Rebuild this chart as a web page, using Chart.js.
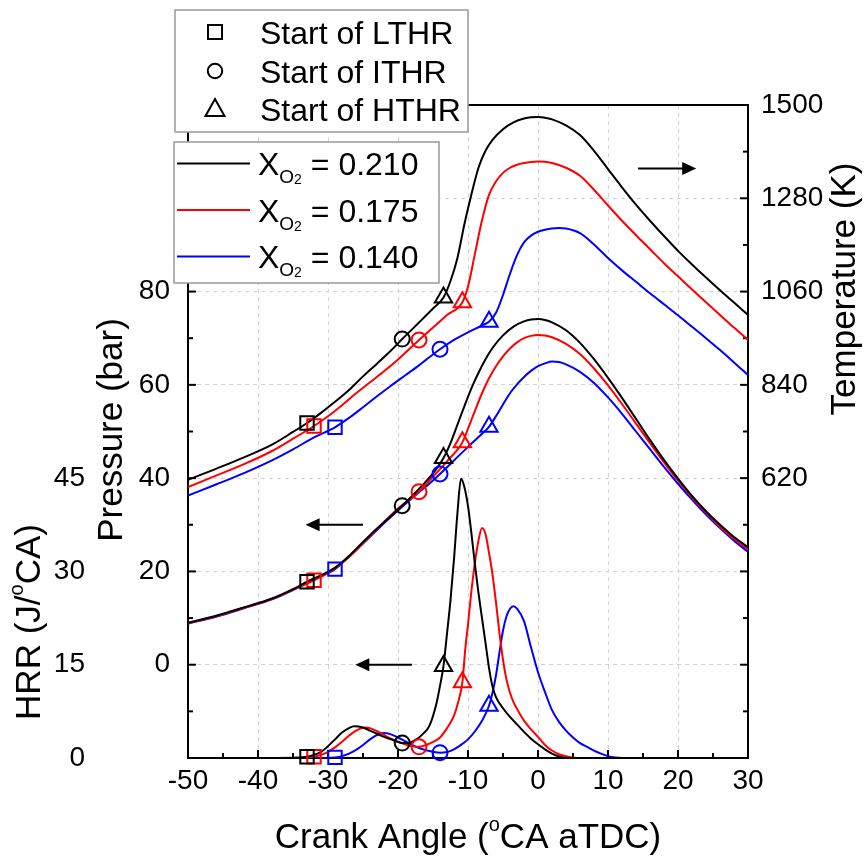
<!DOCTYPE html>
<html>
<head>
<meta charset="utf-8">
<script src="https://cdn.jsdelivr.net/npm/chart.js@4.4.1/dist/chart.umd.min.js"></script>
<style>
  html, body { margin: 0; padding: 0; background: #ffffff; }
  canvas { display: block; }
</style>
</head>
<body>
<canvas id="c" width="866" height="858"></canvas>
<script>
const FONT = "'Liberation Sans', Arial, Helvetica, sans-serif";

// ---- Pressure (bar) and bulk temperature (K) vs crank angle (deg aTDC) ----
// X_O2 = 0.210
const CA_K = [-50,-46,-42,-38,-35,-33,-31,-29,-27,-25,-23,-21,-19.4,-17,-15,-13.5,-12.5,-11.5,-10.5,-9.5,-8.5,-7.5,-6.5,-5,-3.5,-2,-1,0,1,2,4,6,8,10,12,14,16,18,20,22,24,26,28,30];
const P_K  = [9.0,10.5,12.3,14.2,16.2,17.8,19.2,20.8,23.3,26.3,29.2,31.9,34.1,37.7,41.0,44.3,47.5,51.5,55.5,59.3,62.6,65.5,67.9,70.6,72.5,73.6,74.0,74.1,73.9,73.4,71.7,69.0,65.5,61.5,57.2,52.7,48.2,43.9,39.9,36.2,32.9,30.0,27.4,25.2];
const T_K  = [616,642,669,699,729,750,774,800,828,860,890,921,948,987,1020,1046,1085,1140,1220,1290,1352,1392,1418,1443,1459,1468,1471,1471.5,1470,1466,1452,1429,1392,1349,1306,1265,1227,1191,1156,1124,1093,1063,1034,1005];
// X_O2 = 0.175
const CA_R = [-50,-46,-42,-38,-35,-32,-30,-28,-26,-24,-22,-20,-17,-15,-13,-10.8,-10,-9,-8,-7,-6,-5,-4,-3,-2,-1,0,1,2,4,6,8,10,12,14,16,18,20,22,24,26,28,30];
const P_R  = [8.9,10.4,12.2,14.1,16.1,18.1,19.7,21.8,24.5,27.6,30.6,33.5,37.1,40.3,43.6,47.7,50.6,54.5,58.2,61.4,64.0,66.1,67.8,69.1,70.0,70.5,70.7,70.6,70.2,68.8,66.6,63.5,59.9,55.9,51.7,47.5,43.4,39.5,35.9,32.6,29.6,27.0,24.7];
const T_R  = [599,626,653,684,713,743,766,792,820,846,872,900,946,975,1005,1035,1072,1150,1228,1288,1320,1340,1352,1359,1363,1365.5,1366.5,1366,1363,1352,1333,1300,1263,1227,1193,1160,1127,1096,1065,1035,1005,975,946];
// X_O2 = 0.140
const CA_B = [-50,-46,-42,-38,-35,-32,-29,-27,-25,-23,-21,-19,-17,-16,-14,-12,-10,-8,-7,-6,-5,-4,-3,-2,-1,0,1,2,3,4,6,8,10,12,14,16,18,20,22,24,26,28,30];
const P_B  = [8.8,10.3,12.1,14.0,16.0,18.3,20.5,23.2,26.0,28.9,31.7,34.4,37.0,38.2,40.9,43.8,46.7,49.5,51.0,53.3,55.8,58.2,60.1,61.7,63.0,64.0,64.6,65.0,64.9,64.4,62.8,60.4,57.3,53.8,50.0,46.2,42.4,38.8,35.4,32.2,29.3,26.6,24.2];
const T_B  = [579,605,632,662,688,716,740,762,787,813,838,862,886,899,924,946,964,980,989,1010,1052,1102,1146,1176,1192,1201,1206,1209,1210,1209,1198,1171,1139,1110,1083,1056,1030,1004,977,950,922,893,863];

// ---- Heat release rate (J/deg CA) ----
const CA_H_K = [-50,-40,-35,-33,-32,-31,-30,-29,-28,-27,-26.3,-25,-24,-23,-22,-21,-20,-19.4,-18.5,-17.5,-16.5,-15.5,-14.5,-14,-13.5,-13,-12.5,-12,-11.5,-11,-10.5,-10,-9.5,-9,-8.5,-8,-7.5,-7,-6.5,-6,-5,-4,-3,-2,-1,0,1,2,3,4,5,10,20,30];
const H_K    = [0,0,0.03,0.2,0.5,1.0,1.9,3.0,4.1,4.8,5.1,4.9,4.4,3.9,3.4,3.0,2.6,2.4,2.4,2.9,3.8,5.2,8.8,11.6,14.8,20,25.4,32,39.5,44.9,43.5,40.5,36,31,26.5,22.5,18.5,14.5,11.5,9.8,8.0,6.6,5.4,4.2,3.1,2.2,1.4,0.7,0.25,0.05,0,0,0,0];
const CA_H_R = [-50,-40,-34,-32,-31,-30,-29,-28,-27,-26,-25,-24.5,-24,-23,-22,-21,-20,-19,-18,-17,-16,-15,-14,-13,-12,-11.5,-10.8,-10.4,-10,-9.5,-9,-8.5,-8,-7.5,-7,-6.5,-6,-5.5,-5,-4.5,-4,-3.5,-3,-2.5,-2,-1,0,1,2,3,4,5,6,10,20,30];
const H_R    = [0,0,0.05,0.2,0.5,1.0,1.7,2.6,3.6,4.4,4.85,4.9,4.8,4.3,3.7,3.1,2.6,2.2,1.9,1.8,2.1,2.6,3.3,4.8,6.8,8.6,12.2,17.4,21.5,27,31.5,35,37,36,33,29.5,25,20,15.8,12.6,10.5,9.0,7.9,6.9,6.0,4.6,3.4,2.1,1.2,0.6,0.3,0.1,0,0,0,0];
const CA_H_B = [-50,-35,-30,-29,-28,-27,-26,-25,-24,-23,-22,-21,-20,-19,-18,-17,-16,-15,-14,-13,-12,-11,-10,-9,-8,-7,-6.5,-6,-5.5,-5,-4.5,-4,-3.5,-3,-2,-1,0,1,2,3,4,5,6,7,8,9,10,11,12,20,30];
const H_B    = [0,0,0.02,0.1,0.3,0.7,1.3,2.1,3.0,3.7,4.0,3.8,3.3,2.7,2.1,1.6,1.25,1.0,0.85,0.95,1.4,2.1,3.0,4.3,6.0,8.4,10.5,13.3,17,20.5,22.8,24.0,24.4,24.0,22.0,17.8,13.8,10.6,7.7,5.8,4.4,3.3,2.4,1.8,1.2,0.7,0.3,0.08,0,0,0];

// ---- Start of each heat-release stage (deg aTDC), ordered 0.210 / 0.175 / 0.140 ----
const LTHR_START = [-33, -32, -29];
const ITHR_START = [-19.4, -17, -14];
const HTHR_START = [-13.5, -10.8, -7];

const XO2_LABELS = ['0.210', '0.175', '0.140'];
const STAGE_LABELS = ['Start of LTHR', 'Start of ITHR', 'Start of HTHR'];
const COLORS = ['#000000', '#ff0000', '#0000ff'];

const SERIES = [
  { ca: CA_K, p: P_K, t: T_K, caH: CA_H_K, h: H_K },
  { ca: CA_R, p: P_R, t: T_R, caH: CA_H_R, h: H_R },
  { ca: CA_B, p: P_B, t: T_B, caH: CA_H_B, h: H_B }
];

const pts = (xs, ys) => xs.map((x, i) => ({ x, y: ys[i] }));
const valueAt = (xs, ys, x) => ys[xs.indexOf(x)];

const datasets = [];
SERIES.forEach((s, i) => {
  const color = COLORS[i];
  const line = {
    type: 'line', borderColor: color, borderWidth: 2, pointRadius: 0,
    fill: false, cubicInterpolationMode: 'monotone', order: 1
  };
  datasets.push({ ...line, label: 'P ' + XO2_LABELS[i], data: pts(s.ca, s.p), yAxisID: 'yP' });
  datasets.push({ ...line, label: 'T ' + XO2_LABELS[i], data: pts(s.ca, s.t), yAxisID: 'yT' });
  datasets.push({ ...line, label: 'HRR ' + XO2_LABELS[i], data: pts(s.caH, s.h), yAxisID: 'yH' });

  const starts = [LTHR_START[i], ITHR_START[i], HTHR_START[i]];
  const marker = {
    type: 'line', showLine: false, order: 0, clip: false,
    pointStyle: ['rect', 'circle', 'triangle'], pointRadius: [9.5, 7.5, 10],
    pointBorderWidth: 2, pointBorderColor: color, borderColor: color,
    pointBackgroundColor: 'rgba(0,0,0,0)'
  };
  datasets.push({ ...marker, label: 'P stages', yAxisID: 'yP',
    data: starts.map(a => ({ x: a, y: valueAt(s.ca, s.p, a) })) });
  datasets.push({ ...marker, label: 'T stages', yAxisID: 'yT',
    data: starts.map(a => ({ x: a, y: valueAt(s.ca, s.t, a) })) });
  datasets.push({ ...marker, label: 'HRR stages', yAxisID: 'yH',
    data: starts.map(a => ({ x: a, y: valueAt(s.caH, s.h, a) })) });
});

// Direction arrows pointing each curve family to its axis (values in axis units)
const ARROWS = [
  { axis: 'yT', from: 14.3, to: 22.6, at: 1350 },
  { axis: 'yP', from: -25.0, to: -33.2, at: 30 },
  { axis: 'yP', from: -18.0, to: -26.1, at: 0 }
];

function drawRich(ctx, parts, x, y, rot) {
  ctx.save();
  ctx.translate(x, y);
  ctx.rotate(rot);
  ctx.textBaseline = 'alphabetic';
  ctx.textAlign = 'left';
  ctx.fillStyle = '#000';
  const widths = parts.map(p => { ctx.font = p.size + 'px ' + FONT; return ctx.measureText(p.text).width; });
  const total = widths.reduce((a, b) => a + b, 0);
  let cx = -total / 2;
  parts.forEach((p, i) => {
    ctx.font = p.size + 'px ' + FONT;
    ctx.fillText(p.text, cx, p.dy || 0);
    cx += widths[i];
  });
  ctx.restore();
}

const frameTicks = {
  id: 'frameTicks',
  beforeDatasetsDraw(chart) {
    const { ctx, chartArea: a, scales } = chart;
    ctx.save();
    ctx.strokeStyle = '#000';
    ctx.lineWidth = 2;
    const seg = (x1, y1, x2, y2) => { ctx.beginPath(); ctx.moveTo(x1, y1); ctx.lineTo(x2, y2); ctx.stroke(); };
    seg(a.left - 1, a.top, a.right + 1, a.top);
    const x = scales.x, yP = scales.yP, yT = scales.yT;
    for (let v = x.min + 5; v < x.max; v += 5) {
      const px = x.getPixelForValue(v);
      seg(px, a.bottom, px, a.bottom - (v % 10 === 0 ? 8 : 5));
    }
    for (let v = yP.min + 10; v < yP.max; v += 10) {
      const py = yP.getPixelForValue(v);
      seg(a.left, py, a.left + (v % 20 === 0 ? 8 : 5), py);
    }
    for (let v = yT.min + 110; v < yT.max; v += 110) {
      const py = yT.getPixelForValue(v);
      seg(a.right, py, a.right - ((v - yT.min) % 220 === 0 ? 8 : 5), py);
    }
    ctx.restore();
  }
};

const annotations = {
  id: 'annotations',
  afterDraw(chart) {
    const { ctx, chartArea: a, scales } = chart;
    // arrows
    ctx.save();
    ctx.strokeStyle = '#000';
    ctx.fillStyle = '#000';
    ctx.lineWidth = 2;
    ARROWS.forEach(ar => {
      const x1 = scales.x.getPixelForValue(ar.from);
      const x2 = scales.x.getPixelForValue(ar.to);
      const y = scales[ar.axis].getPixelForValue(ar.at);
      const dir = Math.sign(x2 - x1);
      ctx.beginPath(); ctx.moveTo(x1, y); ctx.lineTo(x2 - dir * 10, y); ctx.stroke();
      ctx.beginPath();
      ctx.moveTo(x2, y);
      ctx.lineTo(x2 - dir * 14, y - 6.5);
      ctx.lineTo(x2 - dir * 14, y + 6.5);
      ctx.closePath();
      ctx.fill();
    });
    ctx.restore();

    // axis titles
    drawRich(ctx, [
      { text: 'Crank Angle (', size: 35 },
      { text: 'o', size: 20, dy: -17 },
      { text: 'CA aTDC)', size: 35 }
    ], (a.left + a.right) / 2, 848, 0);
    drawRich(ctx, [{ text: 'Pressure (bar)', size: 35 }], 122, 430, -Math.PI / 2);
    drawRich(ctx, [
      { text: 'HRR (J/', size: 35 },
      { text: 'o', size: 20, dy: -17 },
      { text: 'CA)', size: 35 }
    ], 40, 622, -Math.PI / 2);
    drawRich(ctx, [{ text: 'Temperature (K)', size: 35 }], 855, 289, -Math.PI / 2);

    // legend: heat-release stage markers
    ctx.save();
    ctx.fillStyle = '#ffffff';
    ctx.strokeStyle = '#9a9a9a';
    ctx.lineWidth = 1.5;
    ctx.fillRect(175, 10, 293, 122);
    ctx.strokeRect(175, 10, 293, 122);
    ctx.strokeStyle = '#000';
    ctx.lineWidth = 2;
    const rows1 = [32, 71, 109.5];
    // square
    ctx.strokeRect(215 - 7, rows1[0] - 7, 14, 14);
    // circle
    ctx.beginPath(); ctx.arc(215, rows1[1], 7.2, 0, Math.PI * 2); ctx.stroke();
    // triangle
    ctx.beginPath();
    ctx.moveTo(215, rows1[2] - 10.5);
    ctx.lineTo(215 + 9.5, rows1[2] + 6.5);
    ctx.lineTo(215 - 9.5, rows1[2] + 6.5);
    ctx.closePath(); ctx.stroke();
    ctx.fillStyle = '#000';
    ctx.font = '32px ' + FONT;
    ctx.textAlign = 'left';
    ctx.textBaseline = 'alphabetic';
    STAGE_LABELS.forEach((t, i) => ctx.fillText(t, 260, rows1[i] + 11.5));

    // legend: oxygen mole fraction
    ctx.fillStyle = '#ffffff';
    ctx.strokeStyle = '#9a9a9a';
    ctx.lineWidth = 1.5;
    ctx.fillRect(174, 142, 265, 141);
    ctx.strokeRect(174, 142, 265, 141);
    const rows2 = [163.5, 210, 256.5];
    XO2_LABELS.forEach((lab, i) => {
      const y = rows2[i];
      ctx.strokeStyle = COLORS[i];
      ctx.lineWidth = 2;
      ctx.beginPath(); ctx.moveTo(177, y); ctx.lineTo(250, y); ctx.stroke();
      ctx.fillStyle = '#000';
      let x = 258;
      const base = y + 11.5;
      ctx.font = '32px ' + FONT; ctx.fillText('X', x, base); x += ctx.measureText('X').width;
      ctx.font = '19px ' + FONT; ctx.fillText('O', x, base + 8); x += ctx.measureText('O').width;
      ctx.font = '14px ' + FONT; ctx.fillText('2', x, base + 9); x += ctx.measureText('2').width;
      ctx.font = '32px ' + FONT; ctx.fillText(' = ' + lab, x, base);
    });
    ctx.restore();
  }
};

Chart.defaults.font.family = FONT;
Chart.defaults.color = '#000';

const tickFont = { size: 28, family: FONT };
const gridStyle = { color: '#d2d2d2', lineWidth: 1, drawTicks: false };

new Chart(document.getElementById('c'), {
  type: 'line',
  data: { datasets },
  options: {
    responsive: false,
    animation: false,
    devicePixelRatio: 1,
    events: [],
    layout: { padding: { top: 105, left: 0, right: 0, bottom: 0 } },
    plugins: { legend: { display: false }, tooltip: { enabled: false } },
    scales: {
      x: {
        type: 'linear', position: 'bottom', min: -50, max: 30,
        ticks: { stepSize: 10, font: tickFont, padding: 6, maxRotation: 0, autoSkip: false },
        grid: gridStyle,
        border: { display: true, color: '#000', width: 2, dash: [4, 4] },
        afterFit: s => { s.height = 100; }
      },
      yP: {
        type: 'linear', position: 'left', weight: 0, min: -20, max: 120,
        ticks: { stepSize: 20, font: tickFont, padding: 18,
          callback: v => (v >= 0 && v <= 80 ? String(v) : '') },
        grid: gridStyle,
        border: { display: true, color: '#000', width: 2, dash: [4, 4] },
        afterFit: s => { s.width = 93; }
      },
      yH: {
        type: 'linear', position: 'left', weight: 1, min: 0, max: 105,
        ticks: { stepSize: 15, font: tickFont, padding: 10,
          callback: v => (v <= 45 ? String(v) : '') },
        grid: { display: false, drawTicks: false },
        border: { display: false },
        afterFit: s => { s.width = 95; }
      },
      yT: {
        type: 'linear', position: 'right', min: -40, max: 1500,
        ticks: { stepSize: 220, font: tickFont, padding: 13,
          callback: v => (v >= 620 ? String(v) : '') },
        grid: { display: false, drawTicks: false },
        border: { display: true, color: '#000', width: 2 },
        afterFit: s => { s.width = 118; }
      }
    }
  },
  plugins: [frameTicks, annotations]
});
</script>
</body>
</html>
